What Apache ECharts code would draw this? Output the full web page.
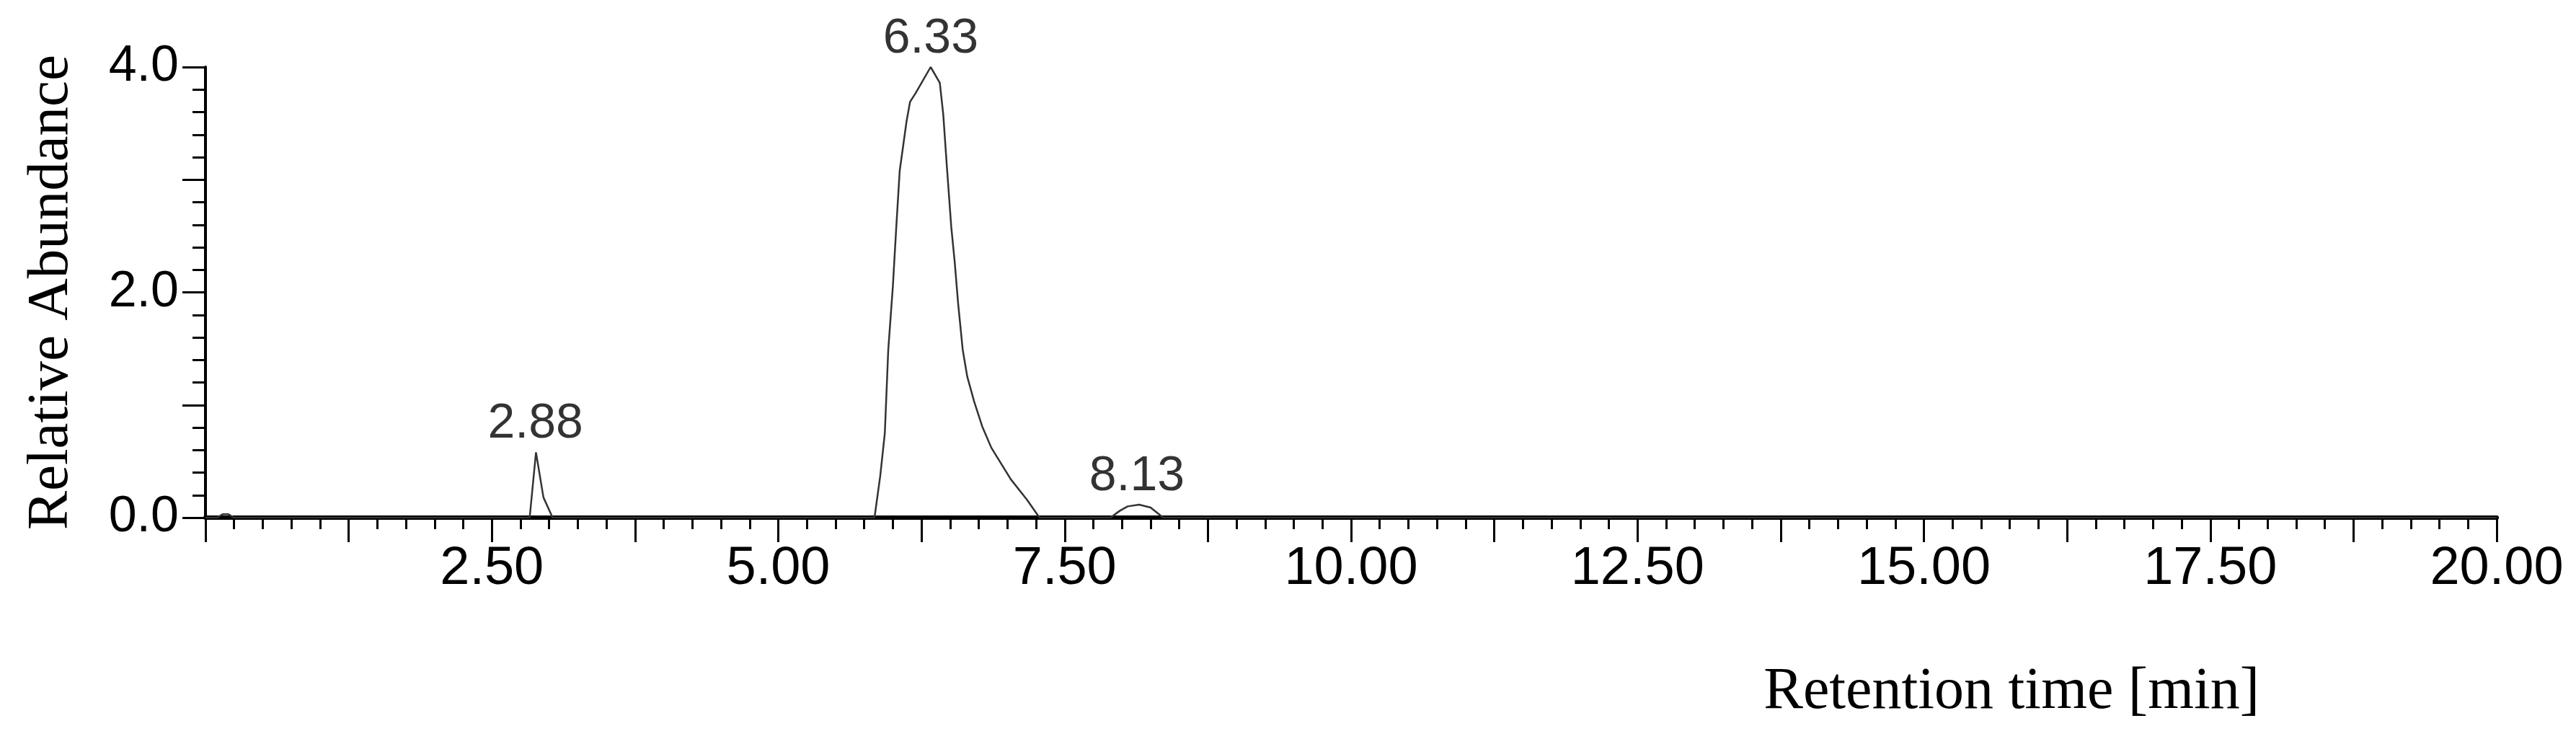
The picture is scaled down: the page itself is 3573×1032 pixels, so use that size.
<!DOCTYPE html>
<html>
<head>
<meta charset="utf-8">
<title>Chromatogram</title>
<script src="https://cdn.jsdelivr.net/npm/echarts@6/dist/echarts.min.js"></script>
<style>
  html, body { margin: 0; padding: 0; background: #fff; }
  #chart { width: 3573px; height: 1032px; }
</style>
</head>
<body>
<div id="chart"></div>
<script>
// retention time (min) and relative abundance
const times = [
  0, 0.10, 0.15, 0.20, 0.25,
  2.83, 2.885, 2.95, 3.03,
  5.84, 5.89, 5.93, 5.96, 6.00, 6.03, 6.06, 6.12, 6.15, 6.20, 6.33,
  6.41, 6.44, 6.47, 6.51, 6.54, 6.57, 6.61, 6.65, 6.71, 6.78, 6.86, 7.03, 7.17, 7.28,
  7.90, 7.98, 8.05, 8.15, 8.25, 8.36,
  20
];
const abundance = [
  0, 0, 0.03, 0.03, 0,
  0, 0.58, 0.18, 0,
  0, 0.37, 0.75, 1.49, 2.05, 2.58, 3.08, 3.52, 3.69, 3.77, 4.0,
  3.86, 3.58, 3.14, 2.58, 2.27, 1.90, 1.49, 1.25, 1.03, 0.81, 0.62, 0.34, 0.16, 0,
  0, 0.06, 0.10, 0.115, 0.09, 0,
  0
];

// labelled peaks
const peakTimes = [2.88, 6.33, 8.13];
const peakHeights = [0.58, 4.0, 0.115];

const chart = echarts.init(document.getElementById('chart'));

const traceData = times.map(function (t, i) {
  return [t, abundance[i]];
});
const peakData = peakTimes.map(function (t, i) {
  return [t, peakHeights[i]];
});

const options = {
  animation: false,
  backgroundColor: '#fff',
  grid: {
    left: 285,
    right: 110,
    top: 93,
    bottom: 314,
  },
  xAxis: {
    type: 'value',
    min: 0,
    max: 20,
    interval: 1.25,
    name: 'Retention time [min]',
    nameLocation: 'end',
    nameGap: -329,
    nameTextStyle: {
      fontFamily: 'Liberation Serif',
      fontSize: 82,
      color: '#000',
      align: 'right',
      verticalAlign: 'top',
      padding: [201, 0, 0, 0],
    },
    axisLine: {
      show: true,
      onZero: false,
      lineStyle: { color: '#000', width: 6 },
    },
    axisTick: {
      show: true,
      length: 34,
      lineStyle: { color: '#000', width: 3 },
    },
    minorTick: {
      show: true,
      splitNumber: 5,
      length: 16,
      lineStyle: { color: '#000', width: 3 },
    },
    axisLabel: {
      margin: 35,
      fontFamily: 'Liberation Sans',
      fontSize: 74,
      color: '#000',
      formatter: function (v) {
        // labels every 2.5 min, ticks every 1.25
        return v > 0 && Math.abs(v / 2.5 - Math.round(v / 2.5)) < 1e-6 ? v.toFixed(2) : '';
      },
    },
    splitLine: { show: false },
  },
  yAxis: {
    type: 'value',
    min: 0,
    max: 4,
    interval: 1,
    name: 'Relative Abundance',
    nameLocation: 'middle',
    nameGap: 173,
    nameTextStyle: {
      fontFamily: 'Liberation Serif',
      fontSize: 81,
      color: '#000',
    },
    axisLine: {
      show: true,
      lineStyle: { color: '#000', width: 4 },
    },
    axisTick: {
      show: true,
      length: 32,
      lineStyle: { color: '#000', width: 3 },
    },
    minorTick: {
      show: true,
      splitNumber: 5,
      length: 18,
      lineStyle: { color: '#000', width: 3 },
    },
    axisLabel: {
      margin: 37,
      fontFamily: 'Liberation Sans',
      fontSize: 70,
      color: '#000',
      formatter: function (v) {
        return v % 2 === 0 ? v.toFixed(1) : '';
      },
    },
    splitLine: { show: false },
  },
  series: [
    {
      name: 'trace',
      type: 'line',
      data: traceData,
      showSymbol: false,
      smooth: false,
      lineStyle: { color: '#333', width: 2.5 },
      z: 3,
    },
    {
      name: 'peaks',
      type: 'scatter',
      data: peakData,
      symbolSize: 0,
      label: {
        show: true,
        position: 'top',
        distance: 5,
        fontFamily: 'Liberation Sans',
        fontSize: 68,
        color: '#000',
        formatter: function (p) {
          return p.value[0].toFixed(2);
        },
      },
      z: 4,
    },
  ],
};

chart.setOption(options);
</script>
</body>
</html>
